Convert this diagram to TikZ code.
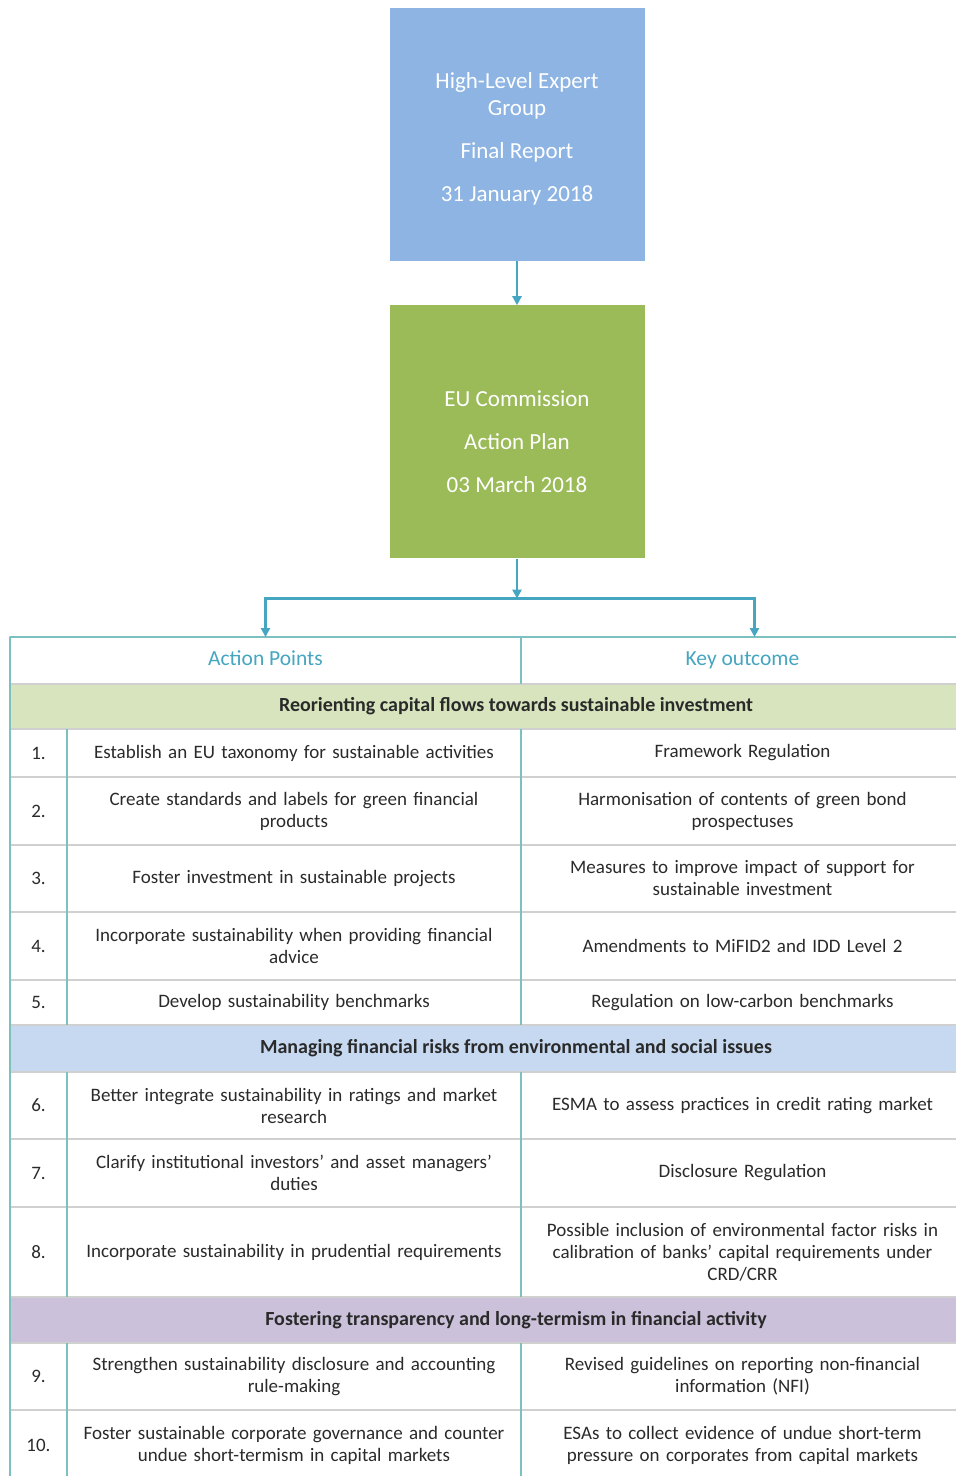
\documentclass[tikz,border=0pt]{standalone}
\usepackage{fontspec}
\setmainfont{Carlito}
\usetikzlibrary{arrows.meta,positioning}
\definecolor{hlegblue}{RGB}{141,180,226}
\definecolor{ecgreen}{RGB}{155,187,89}
\definecolor{flowteal}{RGB}{70,165,192}
\definecolor{gridteal}{RGB}{125,192,192}
\definecolor{gridgray}{RGB}{208,208,208}
\definecolor{bandgreen}{RGB}{215,228,189}
\definecolor{bandblue}{RGB}{198,217,241}
\definecolor{bandpurple}{RGB}{204,193,218}
\definecolor{celltext}{RGB}{42,42,42}

\begin{document}
\begin{tikzpicture}[x=1pt,y=-1pt,>={Triangle[length=9pt,width=9pt]},
  font=\fontsize{19}{22}\selectfont, text=celltext,
  stage/.style={minimum width=255pt,minimum height=253pt,inner sep=0pt,align=center,text=white,font=\fontsize{23}{27}\selectfont},
  flow/.style={draw=flowteal,line width=2.5pt},
  cell/.style={draw=gridgray,line width=1.2pt,inner sep=2pt,outer sep=0pt,align=center},
  num/.style={cell,minimum width=57pt},
  act/.style={cell,minimum width=454pt,text width=444pt},
  outcome/.style={cell,minimum width=443pt,text width=434pt},
  colhead/.style={cell,minimum height=47pt,text height=14pt,text depth=4pt,text=flowteal,font=\fontsize{21.5}{24}\selectfont},
  band/.style={cell,minimum width=1012pt,font=\bfseries\fontsize{20}{22}\selectfont},
  grid/.style={draw=gridteal,line width=1.8pt}]
  \useasboundingbox (0,0) rectangle (956,1476);
  % report and action plan
  \node[stage,fill=hlegblue] (hleg) at (517,134.5) {\mbox{}\\[-3pt]High-Level Expert\\Group\\[16pt]Final Report\\[16pt]31 January 2018};
  \node[stage,fill=ecgreen,below=44pt of hleg] (ecap) {\mbox{}\\[9pt]EU Commission\\[16pt]Action Plan\\[16pt]03 March 2018};
  \coordinate[below=40pt of ecap] (split);
  % table
  \node[colhead,minimum width=511pt,anchor=north west] (hAP) at (10,637) {Action Points};
  \node[colhead,minimum width=443pt,right=0pt of hAP] (hKO) {Key outcome};
  \coordinate (rgt) at ([xshift=12pt]hKO.north);
  \node[band,fill=bandgreen,minimum height=45pt,anchor=north west] (sec1) at (hAP.south west) {Reorienting capital flows towards sustainable investment};
  \node[num,minimum height=48pt,anchor=north west] (n1) at (sec1.south west) {1.};
  \node[act,minimum height=48pt,right=0pt of n1] (a1) {Establish an EU taxonomy for sustainable activities};
  \node[outcome,minimum height=48pt,right=0pt of a1] (o1) {Framework Regulation};
  \node[num,minimum height=68pt,anchor=north west] (n2) at (n1.south west) {2.};
  \node[act,minimum height=68pt,right=0pt of n2] (a2) {Create standards and labels for green financial\\products};
  \node[outcome,minimum height=68pt,right=0pt of a2] (o2) {Harmonisation of contents of green bond\\prospectuses};
  \node[num,minimum height=67pt,anchor=north west] (n3) at (n2.south west) {3.};
  \node[act,minimum height=67pt,right=0pt of n3] (a3) {Foster investment in sustainable projects};
  \node[outcome,minimum height=67pt,right=0pt of a3] (o3) {Measures to improve impact of support for\\sustainable investment};
  \node[num,minimum height=68pt,anchor=north west] (n4) at (n3.south west) {4.};
  \node[act,minimum height=68pt,right=0pt of n4] (a4) {Incorporate sustainability when providing financial\\advice};
  \node[outcome,minimum height=68pt,right=0pt of a4] (o4) {Amendments to MiFID2 and IDD Level 2};
  \node[num,minimum height=45pt,anchor=north west] (n5) at (n4.south west) {5.};
  \node[act,minimum height=45pt,right=0pt of n5] (a5) {Develop sustainability benchmarks};
  \node[outcome,minimum height=45pt,right=0pt of a5] (o5) {Regulation on low-carbon benchmarks};
  \node[band,fill=bandblue,minimum height=47pt,anchor=north west] (sec2) at (n5.south west) {Managing financial risks from environmental and social issues};
  \node[num,minimum height=67pt,anchor=north west] (n6) at (sec2.south west) {6.};
  \node[act,minimum height=67pt,right=0pt of n6] (a6) {Better integrate sustainability in ratings and market\\research};
  \node[outcome,minimum height=67pt,right=0pt of a6] (o6) {ESMA to assess practices in credit rating market};
  \node[num,minimum height=68pt,anchor=north west] (n7) at (n6.south west) {7.};
  \node[act,minimum height=68pt,right=0pt of n7] (a7) {Clarify institutional investors' and asset managers'\\duties};
  \node[outcome,minimum height=68pt,right=0pt of a7] (o7) {Disclosure Regulation};
  \node[num,minimum height=90pt,anchor=north west] (n8) at (n7.south west) {8.};
  \node[act,minimum height=90pt,right=0pt of n8] (a8) {Incorporate sustainability in prudential requirements};
  \node[outcome,minimum height=90pt,right=0pt of a8] (o8) {Possible inclusion of environmental factor risks in\\calibration of banks' capital requirements under\\CRD/CRR};
  \node[band,fill=bandpurple,minimum height=46pt,anchor=north west] (sec3) at (n8.south west) {Fostering transparency and long-termism in financial activity};
  \node[num,minimum height=67pt,anchor=north west] (n9) at (sec3.south west) {9.};
  \node[act,minimum height=67pt,right=0pt of n9] (a9) {Strengthen sustainability disclosure and accounting\\rule-making};
  \node[outcome,minimum height=67pt,right=0pt of a9] (o9) {Revised guidelines on reporting non-financial\\information (NFI)};
  \node[num,minimum height=70pt,anchor=north west] (n10) at (n9.south west) {10.};
  \node[act,minimum height=70pt,right=0pt of n10] (a10) {Foster sustainable corporate governance and counter\\undue short-termism in capital markets};
  \node[outcome,minimum height=70pt,right=0pt of a10] (o10) {ESAs to collect evidence of undue short-term\\pressure on corporates from capital markets};
  % column rules
  \draw[grid] (hAP.north west) -- (n10.south west)
    (hAP.north west) -- (hKO.north east)
    (hKO.north west) -- (hKO.south west)
    (a1.north west) -- (a5.south west) (o1.north west) -- (o5.south west)
    (a6.north west) -- (a8.south west) (o6.north west) -- (o8.south west)
    (a9.north west) -- (a10.south west) (o9.north west) -- (o10.south west);
  % flow
  \draw[flow,->] (hleg) -- (ecap);
  \draw[flow,->] (ecap) -- (split);
  \draw[flow,->] (split) -| (hAP.north);
  \draw[flow,->] (split) -| (rgt);
\end{tikzpicture}
\end{document}
